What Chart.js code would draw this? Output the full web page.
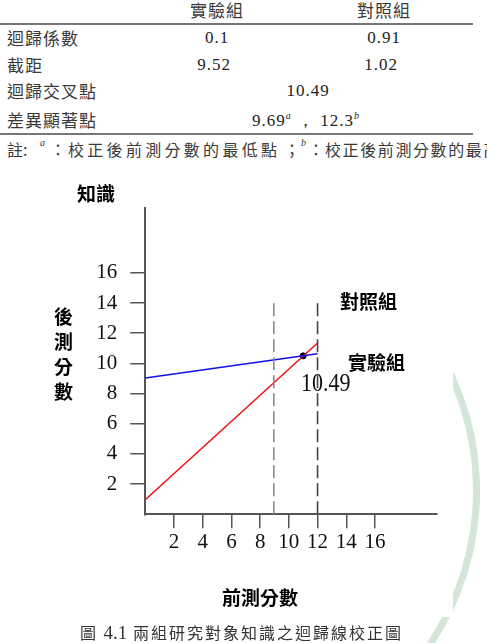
<!DOCTYPE html>
<html><head><meta charset="utf-8">
<script src="https://cdn.jsdelivr.net/npm/chart.js@4.4.0/dist/chart.umd.min.js"></script>
<style>
html,body{margin:0;padding:0;background:#fff;width:487px;height:643px;overflow:hidden;position:relative;font-family:"Noto Sans CJK TC","Noto Sans CJK SC",sans-serif;}
.t{position:absolute;white-space:nowrap;color:#3a3a3a;font-size:16px;line-height:1;}
.c{transform:translateX(-50%);}
.num{font-family:"Liberation Serif",serif;font-size:17px;color:#222;letter-spacing:1px;}
.rule{position:absolute;left:0;height:1.5px;background:#777;}
.b{position:absolute;white-space:nowrap;font-weight:bold;color:#000;font-size:19px;line-height:1;}
#ring{position:absolute;left:-78px;top:212px;width:544px;height:544px;border-radius:50%;border:7px solid #d3e6d9;}
#cover{position:absolute;left:0;top:162px;width:453px;height:455px;background:#fff;}
#wrap{position:absolute;left:0;top:0;width:487px;height:643px;}
</style></head><body>
<div id="ring"></div>
<div id="cover"></div>
<div id="tbl"></div>
<div id="wrap"><canvas id="c" width="487" height="643"></canvas></div>
<div class="b" style="left:77px;top:183px;">知識</div>
<div class="b" id="ylab" style="left:54px;top:303px;width:20px;line-height:25px;">後<br>測<br>分<br>數</div>
<div class="b" style="left:340px;top:291px;">對照組</div>
<div class="b" style="left:348px;top:352px;">實驗組</div>
<div class="b" style="left:222px;top:587px;">前測分數</div>
<div class="t" style="left:301px;top:370px;font-family:'Liberation Serif',serif;font-size:25px;color:#111;transform:scaleX(0.88);transform-origin:left top;">10.49</div>
<div class="t" style="left:80px;top:623px;font-size:16px;color:#333;letter-spacing:2px;">圖 <span style="font-family:'Liberation Serif',serif;font-size:19px;letter-spacing:0;">4.1</span> 兩組研究對象知識之迴歸線校正圖</div>
<script>
// ---- table data ----
const tableGroups = ['實驗組', '對照組'];
const tableRowLabels = ['迴歸係數', '截距', '迴歸交叉點', '差異顯著點'];
const regressionCoef = ['0.1', '0.91'];
const intercepts = ['9.52', '1.02'];
const crossPointText = '10.49';
const significancePoints = ['9.69', '12.3'];
const noteLow = '校正後前測分數的最低點';
const noteHigh = '校正後前測分數的最高點';

// ---- chart data ----
const xTickValues = [2, 4, 6, 8, 10, 12, 14, 16];
const yTickValues = [2, 4, 6, 8, 10, 12, 14, 16];
const experimentalLine = [{x: 0, y: 9.03}, {x: 12, y: 10.64}];
const controlLine = [{x: 0, y: 0.97}, {x: 12, y: 11.35}];
const crossPoint = [{x: 11.0, y: 10.5}];
const lowerBoundLine = [{x: 8.95, y: 0}, {x: 8.95, y: 14}];
const upperBoundLine = [{x: 12, y: 0}, {x: 12, y: 14}];

// ---- table layout ----
const tbl = document.getElementById('tbl');
function add(html, style, cls) {
  const d = document.createElement('div');
  d.className = 't ' + (cls || '');
  d.innerHTML = html;
  d.setAttribute('style', style);
  tbl.appendChild(d);
  return d;
}
const colX = [217, 384];
tableGroups.forEach((g, i) => add(g, `left:${colX[i]}px;top:1px;font-size:17px;letter-spacing:1px;`, 'c'));
const rowY = [29, 56, 82, 111];
tableRowLabels.forEach((r, i) => add(r, `left:7px;top:${rowY[i]}px;font-size:17px;letter-spacing:1px;`));
regressionCoef.forEach((v, i) => add(v, `left:${colX[i]}px;top:${rowY[0]}px;`, 'c num'));
intercepts.forEach((v, i) => add(v, `left:${colX[i] - 3}px;top:${rowY[1]}px;`, 'c num'));
add(crossPointText, `left:308px;top:${rowY[2]}px;`, 'c num');
add(`${significancePoints[0]}<sup style="font-size:10px;font-style:italic">a</sup> ， ${significancePoints[1]}<sup style="font-size:10px;font-style:italic">b</sup>`,
    `left:306px;top:${rowY[3]}px;`, 'c num');
const r1 = document.createElement('div'); r1.className = 'rule'; r1.style.top = '23px'; r1.style.width = '473px'; tbl.appendChild(r1);
const r2 = document.createElement('div'); r2.className = 'rule'; r2.style.top = '133px'; r2.style.width = '473px'; tbl.appendChild(r2);
add('註:', 'left:7px;top:141px;');
add('<i>a</i>', 'left:40px;top:138px;font-size:10px;font-family:Liberation Serif;');
add('：', 'left:50px;top:141px;');
add(noteLow, 'left:68px;top:141px;letter-spacing:3.3px;');
add('；', 'left:284px;top:141px;');
add('<i>b</i>', 'left:301px;top:138px;font-size:10px;font-family:Liberation Serif;');
add('：', 'left:308px;top:141px;');
add(noteHigh, 'left:325px;top:141px;letter-spacing:1.6px;');

// ---- chart ----
const axisColor = '#555';
const tickFont = {family: 'Liberation Serif', size: 21};
new Chart(document.getElementById('c'), {
  type: 'scatter',
  data: {
    datasets: [
      {data: lowerBoundLine, showLine: true, borderColor: '#8a8a8a', borderWidth: 1.6, borderDash: [13, 5], pointRadius: 0},
      {data: upperBoundLine, showLine: true, borderColor: '#444', borderWidth: 1.6, borderDash: [13, 5], pointRadius: 0},
      {data: experimentalLine, showLine: true, borderColor: '#1010ee', borderWidth: 1.5, pointRadius: 0},
      {data: controlLine, showLine: true, borderColor: '#ee1111', borderWidth: 1.5, pointRadius: 0},
      {data: crossPoint, pointRadius: 3, backgroundColor: '#000', borderColor: '#000'}
    ]
  },
  options: {
    responsive: false, animation: false, devicePixelRatio: 1,
    layout: {padding: {left: 0, right: 50.3, top: 208, bottom: 0}},
    plugins: {legend: {display: false}, tooltip: {enabled: false}},
    scales: {
      x: {
        type: 'linear', min: 0, max: 20.3,
        afterBuildTicks: s => { s.ticks = xTickValues.map(v => ({value: v})); },
        afterFit: s => { s.height = 643 - 514.3; },
        ticks: {font: tickFont, color: '#111', padding: 2, maxRotation: 0, autoSkip: false},
        grid: {drawOnChartArea: false, drawTicks: true, tickLength: 14, color: axisColor, lineWidth: 1.5},
        border: {display: true, color: axisColor, width: 2}
      },
      y: {
        type: 'linear', min: 0, max: 20.3,
        afterBuildTicks: s => { s.ticks = yTickValues.map(v => ({value: v})); },
        afterFit: s => { s.width = 145.3; },
        ticks: {font: tickFont, color: '#111', padding: 13, autoSkip: false},
        grid: {drawOnChartArea: false, drawTicks: true, tickLength: 15, color: axisColor, lineWidth: 1.5},
        border: {display: true, color: axisColor, width: 2}
      }
    }
  }
});
</script>
</body></html>
